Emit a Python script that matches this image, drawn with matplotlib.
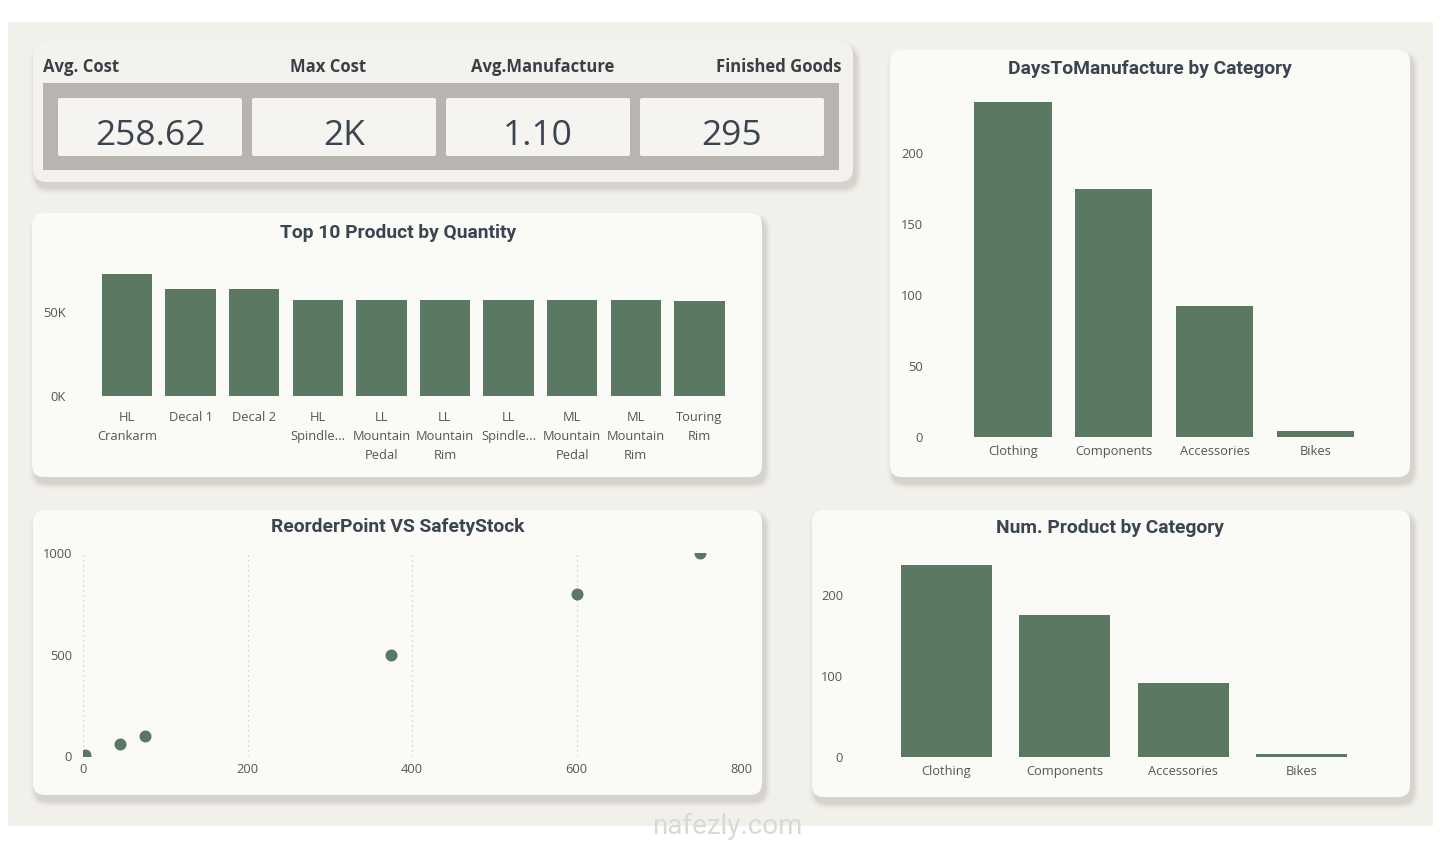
import numpy as np
import matplotlib
matplotlib.use("Agg")
import matplotlib.pyplot as plt
from matplotlib.patches import FancyBboxPatch, Rectangle
from matplotlib.ticker import FuncFormatter

# Figure size in pixels (dpi 100)
W, H = 1454, 841

# Data
kpi_labels = ["Avg. Cost", "Max Cost", "Avg.Manufacture", "Finished Goods"]
kpi_values = ["258.62", "2K", "1.10", "295"]

top_products = ["HL\nCrankarm", "Decal 1", "Decal 2", "HL\nSpindle...",
                "LL\nMountain\nPedal", "LL\nMountain\nRim", "LL\nSpindle...",
                "ML\nMountain\nPedal", "ML\nMountain\nRim", "Touring\nRim"]
top_quantity = [72400, 63500, 63500, 57000, 57000, 57000, 57000, 57000, 57000, 56400]

categories = ["Clothing", "Components", "Accessories", "Bikes"]
days_to_manufacture = [236, 175, 92, 4]
num_products = [237, 175, 91, 4]

reorder_point = [3, 45, 75, 375, 600, 750]
safety_stock = [4, 60, 100, 500, 800, 1000]

# Colours
GREEN = "#5a7862"
PANEL = "#fafaf7"
CARD = "#f4f2ee"
BG = "#f2f0eb"
BAND = "#b8b4b0"
TITLE = "#3b4550"
TICK = "#555555"

TITLE_FONT = ["Roboto", "DejaVu Sans"]

plt.rcParams["font.family"] = ["Open Sans", "DejaVu Sans"]


def rect(x0, y0, x1, y1):
    """pixel box (top-left origin) -> figure fraction rect"""
    return [x0 / W, 1 - y1 / H, (x1 - x0) / W, (y1 - y0) / H]


def draw_panel(bg, x0, y0, x1, y1, face, radius=12):
    for k, a in [(12, 0.03), (8, 0.045), (5, 0.06), (2, 0.07)]:
        bg.add_patch(FancyBboxPatch(
            (x0 + 3 - k / 2, y0 + 6 - k / 2), x1 - x0 + k, y1 - y0 + k,
            boxstyle=f"round,pad=0,rounding_size={radius + k / 2}",
            fc="#5f5f55", ec="none", alpha=a))
    bg.add_patch(FancyBboxPatch(
        (x0, y0), x1 - x0, y1 - y0,
        boxstyle=f"round,pad=0,rounding_size={radius}", fc=face, ec="none"))


def clean(ax):
    ax.set_facecolor("none")
    for s in ax.spines.values():
        s.set_visible(False)
    ax.tick_params(length=0, colors=TICK, labelsize=9.3)


def bar_axes(fig, left, right, top, zero, c0, step, n, px_per_unit):
    # place the axes so category centres / zero line land on the wanted pixels
    ax = fig.add_axes(rect(left, top, right, zero))
    ax.set_xlim((left - c0) / step, n - 1 + (right - (c0 + (n - 1) * step)) / step)
    ax.set_ylim(0, (zero - top) / px_per_unit)
    clean(ax)
    return ax


def main():
    fig = plt.figure(figsize=(W / 100, H / 100), dpi=100)
    fig.patch.set_facecolor("white")

    bg = fig.add_axes([0, 0, 1, 1])
    bg.set_xlim(0, W)
    bg.set_ylim(H, 0)
    bg.axis("off")
    bg.add_patch(Rectangle((8, 22), 1425, 804, fc=BG, ec="none"))

    # KPI card
    draw_panel(bg, 33, 42, 853, 182, CARD, radius=14)
    bg.add_patch(Rectangle((43, 83), 796, 87, fc=BAND, ec="none"))
    box_x = [58, 252, 446, 640]
    for i, (lab, val) in enumerate(zip(kpi_labels, kpi_values)):
        bx = box_x[i]
        bg.add_patch(FancyBboxPatch((bx, 98), 184, 58,
                                    boxstyle="round,pad=0,rounding_size=2",
                                    fc="#f5f4f0", ec="none"))
        bg.text(bx + 92, 145, val, ha="center", va="baseline",
                fontsize=25.5, color=TITLE)
    lab_kw = dict(fontsize=12, fontweight="bold", color="#3a3f44", va="center")
    bg.text(43, 67, kpi_labels[0], ha="left", **lab_kw)
    bg.text(328, 67, kpi_labels[1], ha="center", **lab_kw)
    bg.text(543, 67, kpi_labels[2], ha="center", **lab_kw)
    bg.text(842, 67, kpi_labels[3], ha="right", **lab_kw)

    # chart panels
    draw_panel(bg, 32, 213, 762, 477, PANEL)
    draw_panel(bg, 890, 50, 1410, 477, PANEL)
    draw_panel(bg, 33, 510, 762, 795, PANEL)
    draw_panel(bg, 812, 510, 1410, 797, PANEL)

    title_kw = dict(fontsize=13.9, fontweight="bold", color=TITLE,
                    ha="center", va="center", family=TITLE_FONT)
    bg.text(398, 233, "Top 10 Product by Quantity", **title_kw)
    bg.text(1150, 69, "DaysToManufacture by Category", **title_kw)
    bg.text(398, 527, "ReorderPoint VS SafetyStock", **title_kw)
    bg.text(1110, 528, "Num. Product by Category", **title_kw)

    # watermark
    bg.text(727, 826, "nafezly.com", ha="center", va="center",
            fontsize=20, color="#d9d9d7", family=["Roboto", "DejaVu Sans"])

    # Top 10 products
    ax1 = bar_axes(fig, 80, 740, 262, 396, 127, 63.6, len(top_products), 84 / 50000)
    x1 = np.arange(len(top_products))
    ax1.bar(x1, top_quantity, width=0.79, color=GREEN)
    ax1.set_yticks([0, 50000])
    ax1.yaxis.set_major_formatter(FuncFormatter(lambda v, _: f"{v / 1000:.0f}K"))
    ax1.set_xticks(x1)
    ax1.set_xticklabels(top_products, linespacing=1.6)
    ax1.tick_params(axis="x", pad=11)
    ax1.tick_params(axis="y", pad=10)

    # DaysToManufacture by Category
    ax2 = bar_axes(fig, 930, 1395, 95, 437, 1013, 100.8, len(categories), 283.7 / 200)
    x2 = np.arange(len(categories))
    ax2.bar(x2, days_to_manufacture, width=0.765, color=GREEN)
    ax2.set_yticks([0, 50, 100, 150, 200])
    ax2.set_xticks(x2)
    ax2.set_xticklabels(categories)
    ax2.tick_params(axis="x", pad=5.5)
    ax2.tick_params(axis="y", pad=5)

    # Num. Product by Category
    ax3 = bar_axes(fig, 850, 1390, 560, 757, 946.5, 118.3, len(categories), 81 / 100)
    ax3.bar(x2, num_products, width=0.77, color=GREEN)
    ax3.set_yticks([0, 100, 200])
    ax3.set_xticks(x2)
    ax3.set_xticklabels(categories)
    ax3.tick_params(axis="x", pad=5.5)
    ax3.tick_params(axis="y", pad=5)

    # ReorderPoint VS SafetyStock
    ax4 = fig.add_axes(rect(83, 553, 741, 756))
    clean(ax4)
    ax4.set_xlim(0, 800)
    ax4.set_ylim(0, 1000)
    ax4.set_xticks([0, 200, 400, 600, 800])
    ax4.set_yticks([0, 500, 1000])
    ax4.grid(axis="x", color="#c4c4c4", linestyle=(0, (1, 3)), linewidth=0.9)
    ax4.set_axisbelow(True)
    ax4.scatter(reorder_point, safety_stock, s=58, color=GREEN, zorder=3)
    ax4.tick_params(axis="x", pad=5)
    ax4.tick_params(axis="y", pad=8)

    fig.savefig("out.png", dpi=100, facecolor=fig.get_facecolor())


if __name__ == "__main__":
    main()
